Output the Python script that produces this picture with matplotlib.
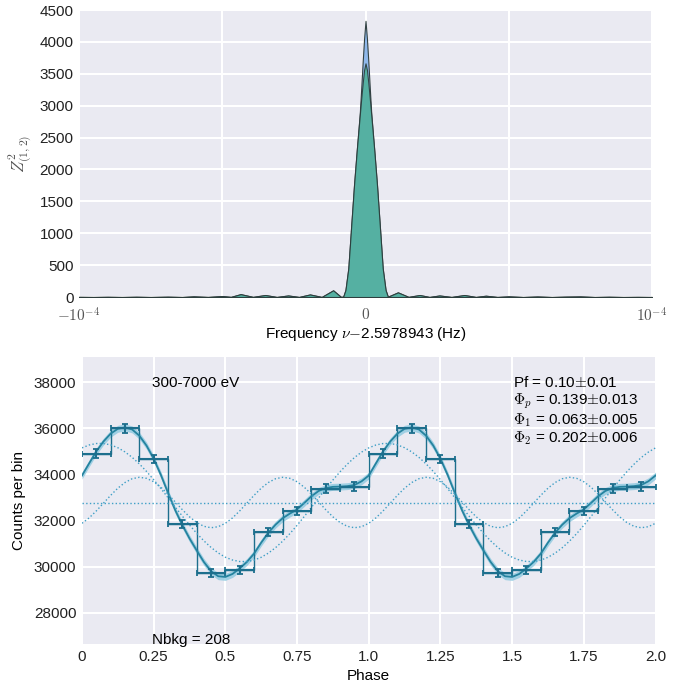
#!/usr/bin/env python3

import numpy as np
import matplotlib
matplotlib.use('Agg')
import matplotlib.pyplot as plt

# periodogram around the best frequency (offsets in micro-Hz)
freq_uhz = [-100, -95, -90, -85, -80, -75, -69, -64, -60, -55, -50, -47, -43.6, -39.3,
            -35, -31, -27, -23.2, -19.4, -15.3, -11.3, -8.6, -7.8, -7, -6, -5, -4, -3,
            -2, -1.5, -1, -0.5, 0, 0.5, 1, 1.5, 2, 3, 4, 5, 6, 7, 7.8, 11.3, 15, 18.9,
            22.3, 25.8, 30, 34.5, 38.5, 42, 46, 50, 55, 60, 65, 70, 75, 80, 85, 90, 95, 100]
z2_green = [2, 0, 3, 0, 4, 0, 5, 0, 10, 1, 15, 2, 45, 2,
            31, 1, 24, 1, 40, 1, 105, 3, 5, 110, 450, 1110, 1760, 2330,
            2854, 3110, 3350, 3560, 3664, 3560, 3350, 3110, 2854, 2330, 1760, 1110, 450, 110, 5, 73, 2, 31,
            1, 24, 1, 31, 1, 20, 1, 10, 0, 8, 0, 6, 9, 0, 4, 0, 2, 0]
z2_blue = [2, 0, 3, 0, 4, 0, 5, 0, 10, 1, 15, 2, 45, 2,
           31, 1, 24, 1, 40, 1, 105, 3, 5, 110, 450, 1110, 1760, 2330,
           2880, 3270, 3680, 4050, 4330, 4050, 3680, 3270, 2880, 2330, 1760, 1110, 450, 110, 5, 73, 2, 31,
           1, 24, 1, 31, 1, 20, 1, 10, 0, 8, 0, 6, 9, 0, 4, 0, 2, 0]

# folded light curve, 10 bins per cycle
bin_counts = [34900, 36000, 34670, 31835, 29722, 29867, 31502, 32414, 33384, 33470]
bin_err = [187, 190, 186, 178, 172, 173, 177, 180, 183, 183]

# fitted model and its two harmonics, one cycle, phase step 0.025
phase_grid = [0.000, 0.025, 0.050, 0.075, 0.100, 0.125, 0.150, 0.175, 0.200, 0.225,
              0.250, 0.275, 0.300, 0.325, 0.350, 0.375, 0.400, 0.425, 0.450, 0.475,
              0.500, 0.525, 0.550, 0.575, 0.600, 0.625, 0.650, 0.675, 0.700, 0.725,
              0.750, 0.775, 0.800, 0.825, 0.850, 0.875, 0.900, 0.925, 0.950, 0.975, 1.000]
fit_vals = [33950, 34480, 35000, 35430, 35770, 35980, 36040, 35950, 35680, 35250,
            34680, 33980, 33200, 32450, 31800, 31220, 30700, 30200, 29800, 29580,
            29550, 29680, 29920, 30200, 30560, 31040, 31470, 31820, 32100, 32300,
            32480, 32760, 33050, 33280, 33410, 33460, 33470, 33490, 33540, 33700, 33950]
harm1_vals = [35151, 35277, 35341, 35343, 35281, 35158, 34976, 34740, 34456, 34130,
              33771, 33388, 32990, 32586, 32188, 31804, 31444, 31117, 30830, 30591,
              30405, 30283, 30219, 30217, 30279, 30402, 30584, 30820, 31104, 31430,
              31789, 32172, 32570, 32974, 33372, 33756, 34116, 34443, 34730, 34969, 35151]
harm2_vals = [31878, 32113, 32416, 32753, 33092, 33402, 33649, 33813, 33875, 33830,
              33682, 33446, 33144, 32807, 32468, 32158, 31911, 31747, 31685, 31730,
              31878, 32113, 32416, 32753, 33092, 33402, 33649, 33813, 33875, 33830,
              33682, 33446, 33144, 32807, 32468, 32158, 31911, 31747, 31685, 31730, 31878]
mean_level = 32780
fit_band = 150

plt.rcParams['font.family'] = ['Liberation Sans', 'DejaVu Sans']
plt.rcParams['mathtext.fontset'] = 'cm'
plt.rcParams['font.size'] = 11

bg = '#EAEAF2'
dark = '#1d6f8d'
fitc = '#25839f'
bandc = '#86c6de'
dotc = '#3f9fc6'

fig = plt.figure(figsize=(6.89, 6.85), dpi=100)
ax1 = fig.add_axes([0.1147, 0.5664, 0.8316, 0.419])
ax2 = fig.add_axes([0.119, 0.0599, 0.8324, 0.4194])

for ax in (ax1, ax2):
    ax.set_facecolor(bg)
    for s in ax.spines.values():
        s.set_visible(False)
    ax.grid(True, color='white', linewidth=1.5)
    ax.set_axisbelow(True)
    ax.tick_params(length=0, labelsize=11, colors='#222222', pad=4)

# top panel
f = np.array(freq_uhz) * 1e-6
ax1.fill_between(f, 0, z2_blue, facecolor='#8ab6ea', edgecolor='#2b3a3a', linewidth=0.8, alpha=0.95)
ax1.fill_between(f, 0, z2_green, facecolor='#4fb09a', edgecolor='#2b3a3a', linewidth=0.8, alpha=0.9)
ax1.set_xlim(-1e-4, 1e-4)
ax1.set_ylim(0, 4500)
ax1.set_xticks([-1e-4, -5e-5, 0, 5e-5, 1e-4])
ax1.set_xticklabels([r'$-10^{-4}$', '', r'$0$', '', r'$10^{-4}$'], color='#555555', fontsize=11)
ax1.tick_params(axis='x', pad=7)
ax1.set_yticks(range(0, 4501, 500))
ax1.set_xlabel(r'Frequency $\nu{-}$2.5978943 (Hz)', fontsize=11, labelpad=0)
ax1.set_ylabel(r'$Z^2_{(1,2)}$', color='#555555', fontsize=12, labelpad=4)

# bottom panel
ph = np.array(phase_grid)
ph2 = np.concatenate([ph, ph[1:] + 1])
fit2 = np.concatenate([fit_vals, fit_vals[1:]])
h1 = np.concatenate([harm1_vals, harm1_vals[1:]])
h2 = np.concatenate([harm2_vals, harm2_vals[1:]])

ax2.fill_between(ph2, fit2 - fit_band, fit2 + fit_band, color=bandc, alpha=0.75, linewidth=0)
ax2.plot(ph2, fit2, color=fitc, linewidth=1.3)
ax2.plot(ph2, h1, color=dotc, linestyle=':', linewidth=1.0)
ax2.plot(ph2, h2, color=dotc, linestyle=':', linewidth=1.0)
ax2.axhline(mean_level, color=dotc, linestyle=':', linewidth=1.0)

counts = np.array(bin_counts * 2)
errs = np.array(bin_err * 2)
edges = np.arange(21) * 0.1
centers = edges[:-1] + 0.05
ax2.stairs(counts, edges, baseline=None, color=dark, linewidth=1.0)
ax2.errorbar(centers, counts, xerr=0.05, yerr=errs, fmt='none', ecolor=dark,
             elinewidth=1.5, capsize=2.2, capthick=1.3)

ax2.set_xlim(0, 2)
ax2.set_ylim(26640, 39110)
ax2.set_xticks([0, 0.25, 0.5, 0.75, 1.0, 1.25, 1.5, 1.75, 2.0])
ax2.set_xticklabels(['0', '0.25', '0.5', '0.75', '1.0', '1.25', '1.5', '1.75', '2.0'])
ax2.set_yticks(range(28000, 38001, 2000))
ax2.set_xlabel('Phase', fontsize=11, labelpad=4)
ax2.set_ylabel('Counts per bin', fontsize=11, labelpad=6)

ax2.text(0.245, 37950, '300-7000 eV', va='center', ha='left', fontsize=11)
ax2.text(0.245, 26830, 'Nbkg = 208', va='center', ha='left', fontsize=11)
ax2.text(1.503, 37970, r'Pf = 0.10$\pm$0.01', va='center', ha='left', fontsize=11)
ax2.text(1.503, 37180, r'$\Phi_p$ = 0.139$\pm$0.013', va='center', ha='left', fontsize=11)
ax2.text(1.503, 36360, r'$\Phi_1$ = 0.063$\pm$0.005', va='center', ha='left', fontsize=11)
ax2.text(1.503, 35550, r'$\Phi_2$ = 0.202$\pm$0.006', va='center', ha='left', fontsize=11)

fig.savefig('out.png', dpi=100)
